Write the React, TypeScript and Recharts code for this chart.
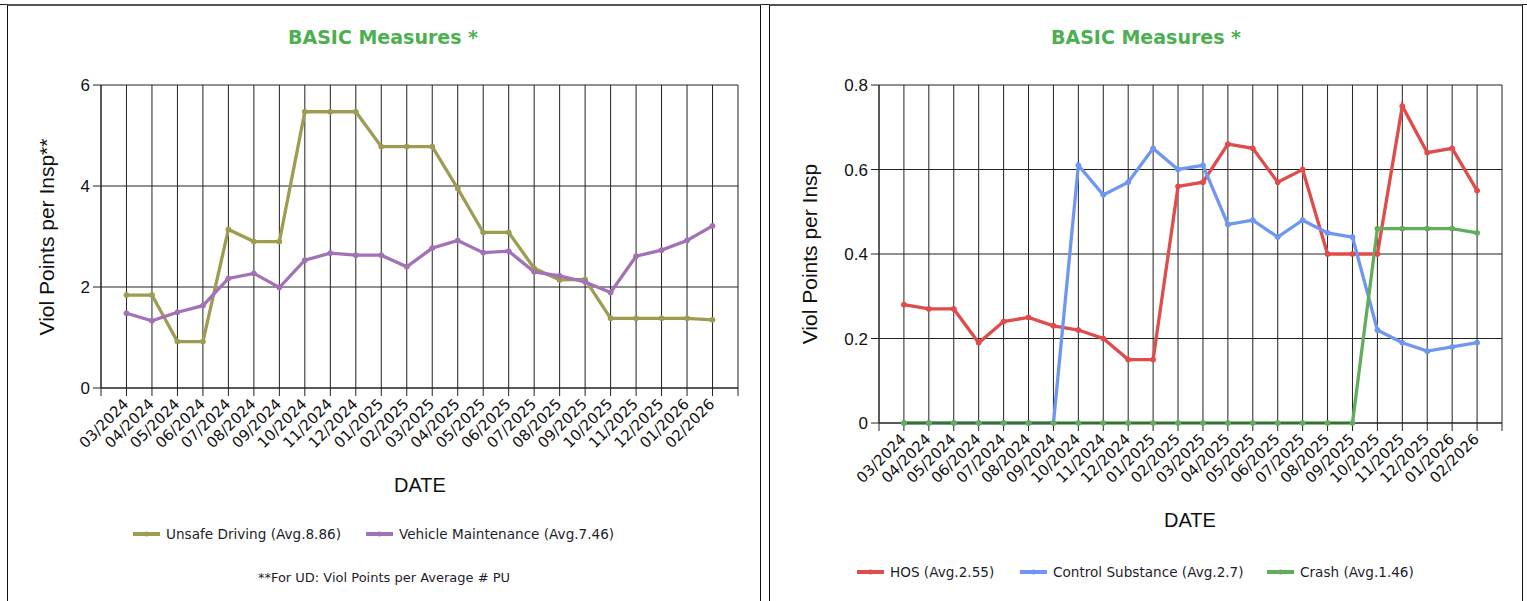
import React from 'react';
import { LineChart, Line, XAxis, YAxis, CartesianGrid } from 'recharts';

const months = [
  '03/2024', '04/2024', '05/2024', '06/2024', '07/2024', '08/2024', '09/2024', '10/2024',
  '11/2024', '12/2024', '01/2025', '02/2025', '03/2025', '04/2025', '05/2025', '06/2025',
  '07/2025', '08/2025', '09/2025', '10/2025', '11/2025', '12/2025', '01/2026', '02/2026'
];

const unsafeDriving = [
  1.84, 1.84, 0.92, 0.92, 3.14, 2.9, 2.9, 5.47, 5.47, 5.47, 4.78, 4.78,
  4.78, 3.95, 3.08, 3.08, 2.37, 2.14, 2.15, 1.38, 1.38, 1.38, 1.38, 1.35
];
const vehicleMaintenance = [
  1.48, 1.33, 1.5, 1.63, 2.17, 2.27, 1.99, 2.53, 2.67, 2.63, 2.63, 2.4,
  2.77, 2.92, 2.68, 2.71, 2.3, 2.22, 2.1, 1.89, 2.61, 2.73, 2.92, 3.21
];

const hos = [
  0.28, 0.27, 0.27, 0.19, 0.24, 0.25, 0.23, 0.22, 0.2, 0.15, 0.15, 0.56,
  0.57, 0.66, 0.65, 0.57, 0.6, 0.4, 0.4, 0.4, 0.75, 0.64, 0.65, 0.55
];
const controlSubstance = [
  0, 0, 0, 0, 0, 0, 0, 0.61, 0.54, 0.57, 0.65, 0.6,
  0.61, 0.47, 0.48, 0.44, 0.48, 0.45, 0.44, 0.22, 0.19, 0.17, 0.18, 0.19
];
const crash = [
  0, 0, 0, 0, 0, 0, 0, 0, 0, 0, 0, 0,
  0, 0, 0, 0, 0, 0, 0, 0.46, 0.46, 0.46, 0.46, 0.45
];

const leftTicks = [0, 2, 4, 6];
const rightTicks = [0, 0.2, 0.4, 0.6, 0.8];

const COLORS = {
  ud: '#9e9c52',
  vm: '#a371b6',
  hos: '#e04b4b',
  cs: '#6f97f2',
  crash: '#62ad5b'
};

const leftData = months.map((m, i) => ({ x: i + 1, month: m, ud: unsafeDriving[i], vm: vehicleMaintenance[i] }));
const rightData = months.map((m, i) => ({ x: i + 1, month: m, hos: hos[i], cs: controlSubstance[i], crash: crash[i] }));
const xTicks = [0, ...months.map((_, i) => i + 1), months.length + 1];

const AXIS_FONT = "'Liberation Sans', Arial, sans-serif";
const TAHOMA = "'DejaVu Sans', Verdana, sans-serif";

const DateTick = (props: any) => {
  const { x, y, payload } = props;
  const label = months[payload.value - 1];
  if (!label) return <g />;
  const ax = x + 3;
  const ay = y + 7;
  return (
    <text
      x={ax}
      y={ay}
      transform={`rotate(-45 ${ax} ${ay})`}
      textAnchor="end"
      fontSize={15}
      fontFamily={TAHOMA}
      fill="#111"
    >
      {label}
    </text>
  );
};

const dot = (color: string) => ({ r: 2.5, fill: color, stroke: color, strokeWidth: 1 });

const LegendItem: React.FC<{ color: string; text: string; x: number; y: number }> = ({ color, text, x, y }) => (
  <div style={{ position: 'absolute', left: x, top: y - 9, display: 'flex', alignItems: 'center', whiteSpace: 'nowrap' }}>
    <svg width={27} height={18}>
      <line x1={0} y1={9} x2={27} y2={9} stroke={color} strokeWidth={4} />
      <circle cx={13.5} cy={9} r={2.5} fill={color} />
    </svg>
    <span style={{ marginLeft: 6, fontFamily: TAHOMA, fontSize: 13.6, color: '#1d1d2b' }}>{text}</span>
  </div>
);

const Title: React.FC<{ cx: number }> = ({ cx }) => (
  <div style={{
    position: 'absolute', left: cx - 150, width: 300, top: 26, textAlign: 'center',
    fontFamily: TAHOMA, fontWeight: 'bold', fontSize: 19, color: '#4caf50'
  }}>
    BASIC Measures *
  </div>
);

const YLabel: React.FC<{ cx: number; cy: number; text: string }> = ({ cx, cy, text }) => (
  <div style={{
    position: 'absolute', left: cx - 150, top: cy - 12, width: 300, height: 24, lineHeight: '24px',
    textAlign: 'center', transform: 'rotate(-90deg)', fontFamily: AXIS_FONT, fontSize: 21, color: '#111'
  }}>
    {text}
  </div>
);

const XLabel: React.FC<{ cx: number; cy: number }> = ({ cx, cy }) => (
  <div style={{
    position: 'absolute', left: cx - 60, top: cy - 12, width: 120, lineHeight: '24px',
    textAlign: 'center', fontFamily: AXIS_FONT, fontSize: 20, color: '#111'
  }}>
    DATE
  </div>
);

const App: React.FC = () => {
  return (
    <div style={{ position: 'absolute', left: 0, top: 0, width: 1527, height: 601, background: '#fff', overflow: 'hidden' }}>
      <div style={{ position: 'absolute', left: 0, top: 4, width: 1527, height: 1, background: '#222' }} />
      {/* panels */}
      <div style={{
        position: 'absolute', left: 7, top: 4, width: 752, height: 610,
        borderTop: '2px solid #555', borderLeft: '1px solid #111', borderRight: '1px solid #111'
      }} />
      <div style={{
        position: 'absolute', left: 769, top: 4, width: 752, height: 610,
        borderTop: '2px solid #555', borderLeft: '1px solid #111', borderRight: '1px solid #111'
      }} />

      <Title cx={383} />
      <Title cx={1146} />

      {/* left chart */}
      <div style={{ position: 'absolute', left: 0, top: 0 }}>
        <LineChart width={760} height={601} data={leftData} margin={{ top: 85, right: 22, left: 61, bottom: 153 }}>
          <CartesianGrid stroke="#222" strokeWidth={1} />
          <XAxis
            dataKey="x"
            type="number"
            domain={[0, months.length + 1]}
            ticks={xTicks}
            interval={0}
            height={60}
            tickSize={8}
            stroke="#222"
            tick={DateTick}
          />
          <YAxis
            domain={[0, 6]}
            ticks={leftTicks}
            width={40}
            tickSize={8}
            tickMargin={3}
            stroke="#222"
            tick={{ fontFamily: AXIS_FONT, fontSize: 17, fill: '#111' }}
          />
          <Line dataKey="ud" stroke={COLORS.ud} strokeWidth={3.3} dot={dot(COLORS.ud)} activeDot={false} isAnimationActive={false} />
          <Line dataKey="vm" stroke={COLORS.vm} strokeWidth={3.3} dot={dot(COLORS.vm)} activeDot={false} isAnimationActive={false} />
        </LineChart>
      </div>

      {/* right chart */}
      <div style={{ position: 'absolute', left: 770, top: 0 }}>
        <LineChart width={757} height={601} data={rightData} margin={{ top: 85, right: 25, left: 69, bottom: 118 }}>
          <CartesianGrid stroke="#222" strokeWidth={1} />
          <XAxis
            dataKey="x"
            type="number"
            domain={[0, months.length + 1]}
            ticks={xTicks}
            interval={0}
            height={60}
            tickSize={8}
            stroke="#222"
            tick={DateTick}
          />
          <YAxis
            domain={[0, 0.8]}
            ticks={rightTicks}
            width={40}
            tickSize={8}
            tickMargin={3}
            stroke="#222"
            tickFormatter={(v: number) => (v === 0 ? '0' : v.toFixed(1))}
            tick={{ fontFamily: AXIS_FONT, fontSize: 17, fill: '#111' }}
          />
          <Line dataKey="hos" stroke={COLORS.hos} strokeWidth={3.3} dot={dot(COLORS.hos)} activeDot={false} isAnimationActive={false} />
          <Line dataKey="cs" stroke={COLORS.cs} strokeWidth={3.3} dot={dot(COLORS.cs)} activeDot={false} isAnimationActive={false} />
          <Line dataKey="crash" stroke={COLORS.crash} strokeWidth={3.3} dot={dot(COLORS.crash)} activeDot={false} isAnimationActive={false} />
        </LineChart>
      </div>

      <YLabel cx={47} cy={237} text="Viol Points per Insp**" />
      <YLabel cx={810} cy={254} text="Viol Points per Insp" />
      <XLabel cx={420} cy={485} />
      <XLabel cx={1190} cy={520} />

      <LegendItem color={COLORS.ud} text="Unsafe Driving (Avg.8.86)" x={133} y={534} />
      <LegendItem color={COLORS.vm} text="Vehicle Maintenance (Avg.7.46)" x={366} y={534} />
      <div style={{
        position: 'absolute', left: 184, width: 400, top: 570, textAlign: 'center',
        fontFamily: TAHOMA, fontSize: 13, color: '#1d1d2b'
      }}>
        **For UD: Viol Points per Average # PU
      </div>

      <LegendItem color={COLORS.hos} text="HOS (Avg.2.55)" x={857} y={572} />
      <LegendItem color={COLORS.cs} text="Control Substance (Avg.2.7)" x={1020} y={572} />
      <LegendItem color={COLORS.crash} text="Crash (Avg.1.46)" x={1267} y={572} />
    </div>
  );
};

export default App;
